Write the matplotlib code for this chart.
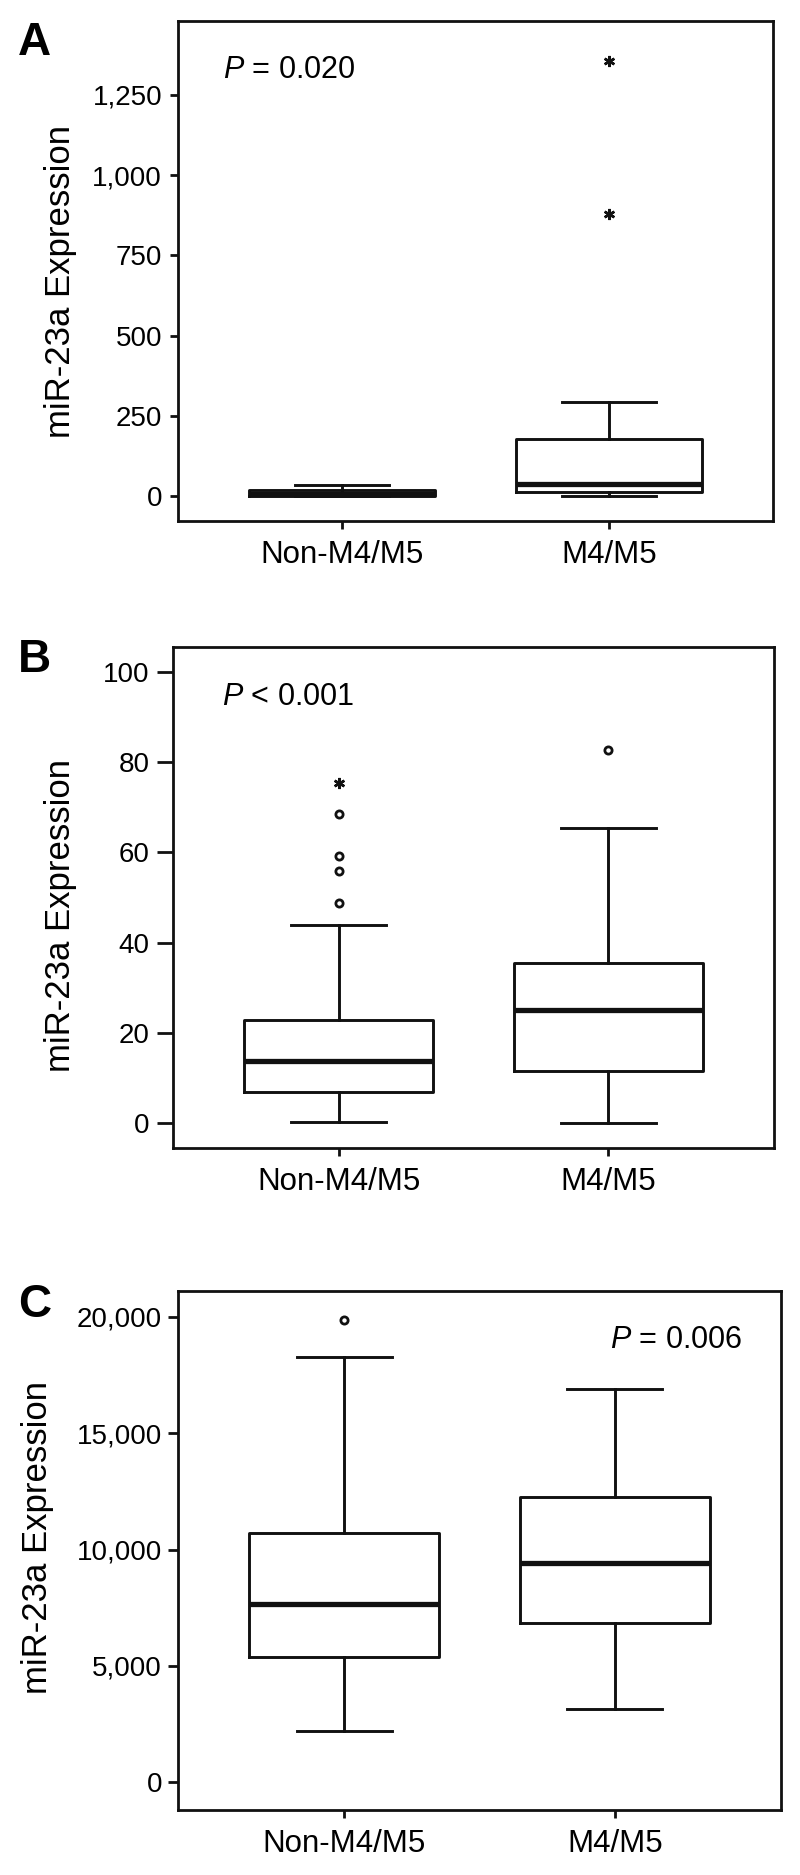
import matplotlib
matplotlib.use("Agg")
import matplotlib.pyplot as plt
from matplotlib.ticker import FixedLocator, StrMethodFormatter

plt.rcParams['font.family'] = ['Liberation Sans', 'DejaVu Sans']
plt.rcParams['mathtext.fontset'] = 'custom'
plt.rcParams['mathtext.rm'] = 'Liberation Sans'
plt.rcParams['mathtext.it'] = 'Liberation Sans:italic'

# categories
groups = ["Non-M4/M5", "M4/M5"]
ylabel = "miR-23a Expression"

# panel A: box stats per group (whisker low, Q1, median, Q3, whisker high)
a_whislo = [0, 1]
a_q1 = [1, 12]
a_med = [8, 38]
a_q3 = [20, 178]
a_whishi = [36, 295]
a_circles = [[], []]
a_stars = [[], [1354, 879]]
a_ticks = [0, 250, 500, 750, 1000, 1250]
a_ptext = "$P$ = 0.020"

# panel B
b_whislo = [0.3, 0.0]
b_q1 = [6.8, 11.6]
b_med = [13.8, 25.1]
b_q3 = [22.8, 35.6]
b_whishi = [43.9, 65.4]
b_circles = [[48.7, 55.8, 59.3, 68.4], [82.7]]
b_stars = [[75.4], []]
b_ticks = [0, 20, 40, 60, 80, 100]
b_ptext = "$P$ < 0.001"

# panel C
c_whislo = [2200, 3140]
c_q1 = [5370, 6840]
c_med = [7650, 9410]
c_q3 = [10700, 12240]
c_whishi = [18270, 16910]
c_circles = [[19850], []]
c_stars = [[], []]
c_ticks = [0, 5000, 10000, 15000, 20000]
c_ptext = "$P$ = 0.006"

INK = '#111111'


def make_stats(whislo, q1, med, q3, whishi):
    stats = []
    for i in range(len(groups)):
        stats.append({'whislo': whislo[i], 'q1': q1[i], 'med': med[i],
                      'q3': q3[i], 'whishi': whishi[i], 'fliers': [],
                      'label': groups[i]})
    return stats


def draw_panel(ax, stats, circles, stars, ticks, ylim, ytick_len, ylab_x,
               ylab_y, ytick_pad):
    line = dict(color=INK, linewidth=2.1)
    ax.bxp(stats, positions=[1, 2], widths=0.70, showfliers=False,
           boxprops=line, whiskerprops=line, capprops=line,
           medianprops=dict(color=INK, linewidth=3.8))
    for i, vals in enumerate(circles):
        if vals:
            ax.plot([i + 1] * len(vals), vals, linestyle='none', marker='o',
                    markersize=5.2, markerfacecolor='white',
                    markeredgecolor=INK, markeredgewidth=2.0)
    for i, vals in enumerate(stars):
        if vals:
            ax.plot([i + 1] * len(vals), vals, linestyle='none',
                    marker=(6, 2, 0), markersize=8,
                    markeredgecolor=INK, markeredgewidth=1.8)

    ax.set_xlim(0.386, 2.614)
    ax.set_ylim(*ylim)
    ax.yaxis.set_major_locator(FixedLocator(ticks))
    ax.yaxis.set_major_formatter(StrMethodFormatter('{x:,.0f}'))
    ax.set_xticks([1, 2])
    ax.set_xticklabels(groups, fontsize=22.5)
    ax.tick_params(axis='y', direction='out', length=ytick_len, width=2.0,
                   labelsize=20, pad=ytick_pad, color=INK)
    ax.tick_params(axis='x', direction='out', length=6, width=2.0,
                   pad=8, color=INK)
    for sp in ax.spines.values():
        sp.set_linewidth(2.0)
        sp.set_color(INK)
    ax.set_ylabel(ylabel, fontsize=25)
    ax.yaxis.set_label_coords(ylab_x, ylab_y)


fig = plt.figure(figsize=(8, 18.75), dpi=100)

axA = fig.add_axes([0.2225, 0.72213, 0.74375, 0.26667])
draw_panel(axA, make_stats(a_whislo, a_q1, a_med, a_q3, a_whishi),
           a_circles, a_stars, a_ticks, (-77, 1480), 6, -0.170, 0.48, 5.5)
axA.text(0.075, 1328, a_ptext, transform=axA.get_yaxis_transform(),
         fontsize=22, ha='left', va='center')

axB = fig.add_axes([0.21625, 0.38773, 0.75125, 0.2672])
draw_panel(axB, make_stats(b_whislo, b_q1, b_med, b_q3, b_whishi),
           b_circles, b_stars, b_ticks, (-5.5, 105.5), 11.5, -0.160, 0.465, 5.5)
axB.text(0.081, 94.5, b_ptext, transform=axB.get_yaxis_transform(),
         fontsize=22, ha='left', va='center')

axC = fig.add_axes([0.2225, 0.03467, 0.75375, 0.2768])
draw_panel(axC, make_stats(c_whislo, c_q1, c_med, c_q3, c_whishi),
           c_circles, c_stars, c_ticks, (-1200, 21115), 7, -0.206, 0.525, 4.5)
axC.text(0.935, 19000, c_ptext, transform=axC.get_yaxis_transform(),
         fontsize=22, ha='right', va='center')

# panel letters
for letter, yb in [("A", 0.97067), ("B", 0.6416), ("C", 0.2976)]:
    fig.text(0.0225, yb, letter, fontsize=33, fontweight='bold',
             ha='left', va='baseline')

fig.savefig("out.png", dpi=100)
